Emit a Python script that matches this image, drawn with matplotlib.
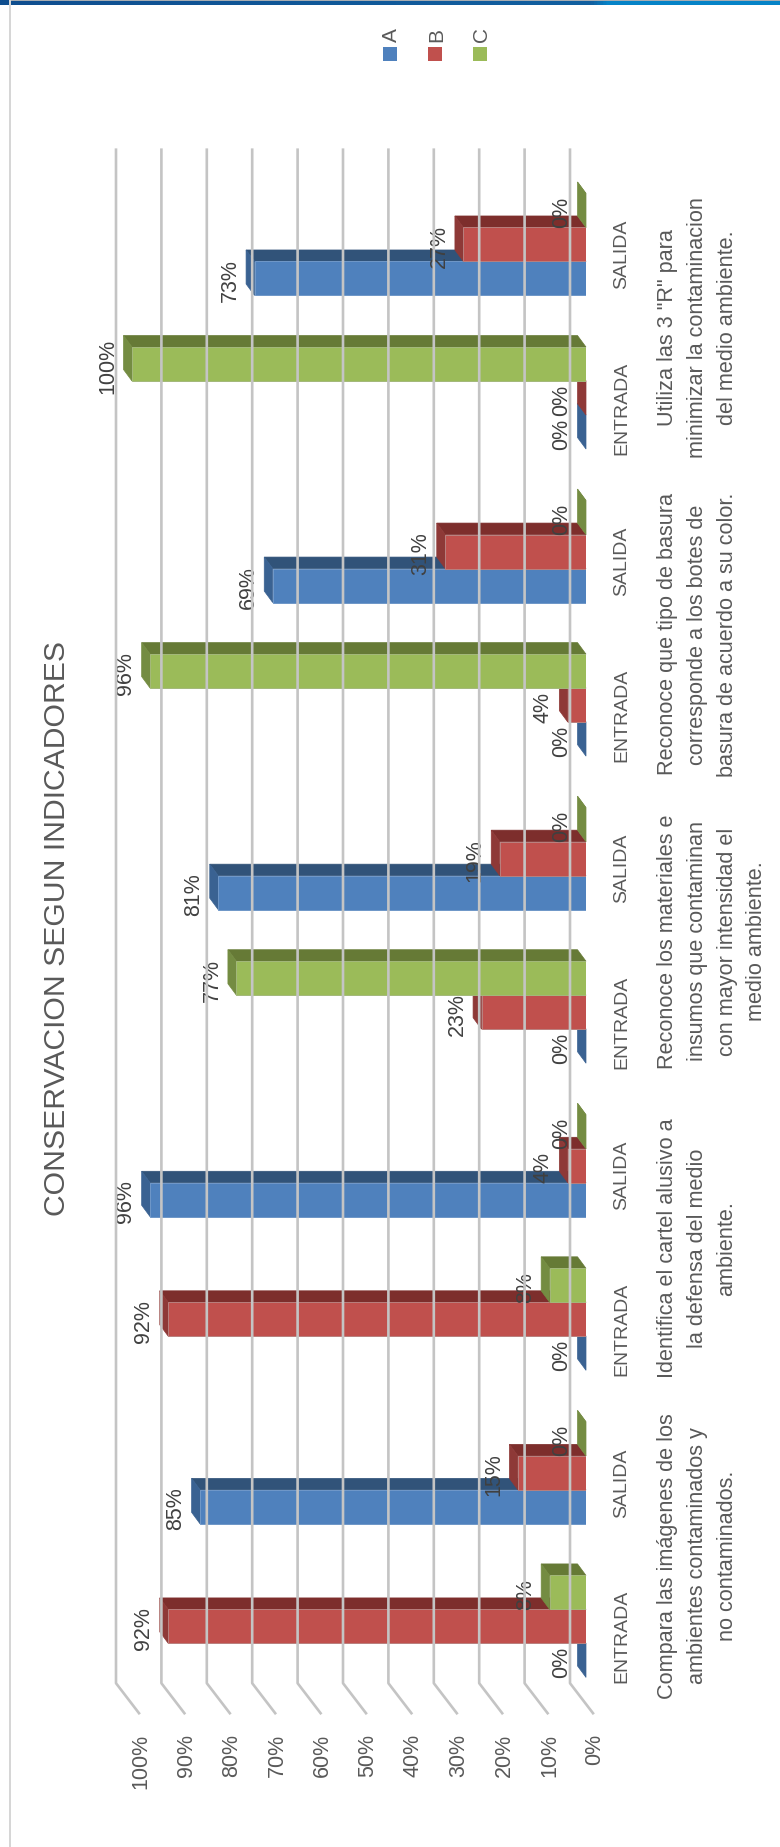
import matplotlib
matplotlib.use('Agg')
import matplotlib.pyplot as plt
from matplotlib.colors import LinearSegmentedColormap
from matplotlib.patches import Polygon, Rectangle
from matplotlib.lines import Line2D
from matplotlib.transforms import IdentityTransform
import numpy as np

plt.rcParams['font.family'] = ['Liberation Sans', 'DejaVu Sans']

title = "CONSERVACION SEGUN INDICADORES"
series_names = ["A", "B", "C"]
phases = ["ENTRADA", "SALIDA"] * 5
indicators = [
    "Compara las imágenes de los\nambientes contaminados y\nno contaminados.",
    "Identifica el cartel alusivo a\nla defensa del medio\nambiente.",
    "Reconoce los materiales e\ninsumos que contaminan\ncon mayor intensidad el\nmedio ambiente.",
    "Reconoce que tipo de basura\ncorresponde a los botes de\nbasura de acuerdo a su color.",
    "Utiliza las 3 \"R\" para\nminimizar la contaminacion\ndel medio ambiente.",
]
values_a = [0, 85, 0, 96, 0, 81, 0, 69, 0, 73]
values_b = [92, 15, 92, 4, 23, 19, 4, 31, 0, 27]
values_c = [8, 0, 8, 0, 77, 0, 96, 0, 100, 0]
ticks = list(range(0, 101, 10))

W, H = 780, 1847
fig = plt.figure(figsize=(W / 100, H / 100), dpi=100, facecolor='white')

# axes holds the front plane of the bars; x = percentage (reversed), y = category
left, right, top, bottom = 132, 586, 167.7, 1703.2
ax = fig.add_axes([left / W, 1 - bottom / H, (right - left) / W, (bottom - top) / H])
ax.set_xlim(100, 0)
ax.set_ylim(-0.5, 9.5)
ax.axis('off')

px = IdentityTransform()
bar_h = 34 / 153.55
faces = ['#4F81BD', '#C0504D', '#9BBB59']
edges = ['#6F97C8', '#B9807E', '#A3B87A']
tops = ['#315379', '#7D2E2C', '#667A36']
sides = ['#3A6292', '#8E3937', '#748C42']
txt = '#404040'
txt2 = '#595959'
depth = (-8.5, 11.5)


def P(v, c):
    return ax.transData.transform((v, c))


def poly(points, color, z):
    ax.add_patch(Polygon(points, closed=True, transform=px, facecolor=color,
                         edgecolor=color, linewidth=0.5, zorder=z, clip_on=False))


def line(points, z=1):
    pts = np.array(points)
    fig.add_artist(Line2D(pts[:, 0], pts[:, 1], transform=px, color='#C4C4C4', lw=1.9, zorder=z))


fig.canvas.draw()

# gridlines: back wall and floor
for t in ticks:
    f = P(t, -0.5)
    back_low = f + np.array([-16, 20])
    back_high = P(t, 9.5) + np.array([-16, 18])
    floor_front = f + np.array([7, -10])
    line([back_high, back_low, floor_front])
    ax.text(floor_front[0] + 2, floor_front[1] - 21, f"{t}%", transform=px, rotation=90,
            ha='center', va='top', fontsize=15.5, color=txt2, clip_on=False)

# bars, painted from low to high within each category
zc = 3.0
for c in range(10):
    for s, vals in enumerate([values_a, values_b, values_c]):
        v = vals[c]
        y = c + (s - 1) * bar_h
        lo = y - bar_h / 2
        hi = y + bar_h / 2
        d = np.array(depth)
        poly([P(0, hi), P(v, hi), P(v, hi) + d, P(0, hi) + d], tops[s], zc)
        poly([P(v, lo), P(v, hi), P(v, hi) + d, P(v, lo) + d], sides[s], zc + 0.01)
        ax.barh(y, v, height=bar_h, color=faces[s], edgecolor=edges[s], linewidth=0.7,
                zorder=zc + 0.02)
        zc += 0.1

# value labels above everything
for c in range(10):
    for s, vals in enumerate([values_a, values_b, values_c]):
        v = vals[c]
        y = c + (s - 1) * bar_h
        p = P(v, y) + np.array([-24.5, -2])
        ax.text(p[0], p[1], f"{v}%", transform=px, rotation=90, ha='center', va='center',
                fontsize=15.5, color=txt, zorder=50, clip_on=False)

# phase and indicator labels
for c, name in enumerate(phases):
    p = P(0, c)
    ax.text(622, p[1] - 10, name, transform=px, rotation=90, ha='center', va='center',
            fontsize=14, color=txt2, clip_on=False)
for g, name in enumerate(indicators):
    p = P(0, 2 * g + 0.5)
    ax.text(657, p[1] - 6, name, transform=px, rotation=90, ha='left', va='center',
            fontsize=15.6, color=txt2, linespacing=1.55, multialignment='center', clip_on=False)

# title
fig.text(57 / W, 1 - 928 / H, title, rotation=90, ha='center', va='center',
         fontsize=21.7, color=txt2)

# legend
legend_x = [390, 435, 480]
for name, col, lx in zip(series_names, faces, legend_x):
    fig.add_artist(Rectangle(((lx - 7) / W, 1 - 61 / H), 14 / W, 14 / H, transform=fig.transFigure,
                             facecolor=col, edgecolor='none'))
    fig.text((lx + 1.5) / W, 1 - 42 / H, name, rotation=90, ha='center', va='bottom',
             fontsize=15, color=txt2)

# page decoration
grad = np.linspace(0, 1, 512)[None, :]
band = fig.add_axes([0, 1 - 5 / H, 1, 5 / H])
band.axis('off')
cmap = LinearSegmentedColormap.from_list(
    'b', [(0, '#0F4E8F'), (0.76, '#1260A0'), (0.78, '#0583C7'), (1, '#0583C7')])
band.imshow(grad, aspect='auto', cmap=cmap)
fig.add_artist(Rectangle((11 / W, 1 - 1.3 / H), 1 - 11 / W, 1.3 / H, transform=fig.transFigure,
                         facecolor='#A8ADB2', edgecolor='none', zorder=3))
fig.add_artist(Rectangle((9 / W, 0), 2 / W, 1, transform=fig.transFigure,
                         facecolor='#D6D6D6', edgecolor='none', zorder=3))

fig.savefig('out.png', dpi=100)
